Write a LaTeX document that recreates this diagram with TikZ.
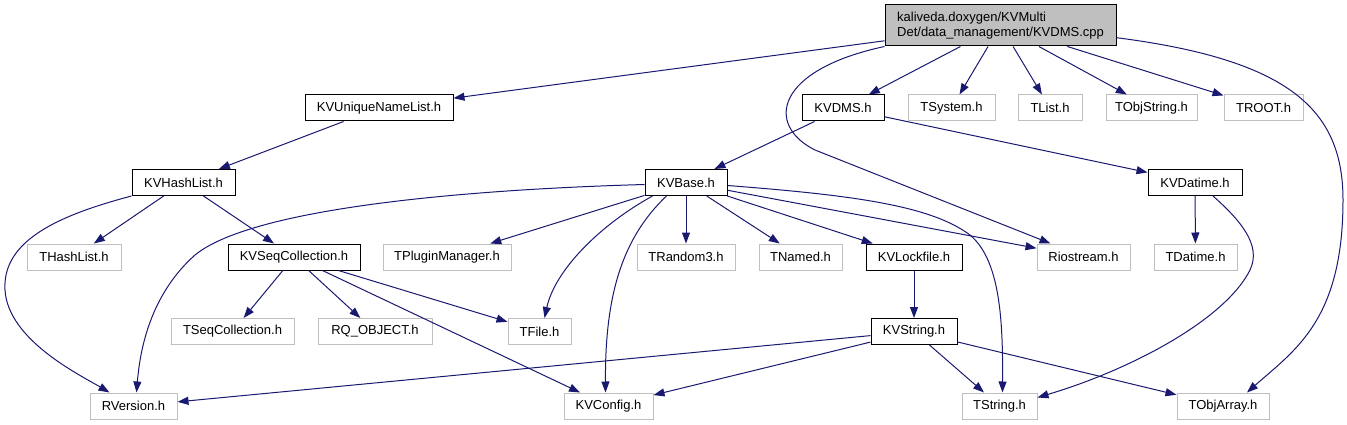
\documentclass[tikz,border=0pt]{standalone}
\usepackage{fontspec}
\setsansfont{Liberation Sans}
\usepackage{tikz}
\usetikzlibrary{arrows.meta}
\definecolor{edgeblue}{HTML}{191970}
\definecolor{boxgrey}{HTML}{BFBFBF}

\begin{document}
\begin{tikzpicture}[x=1pt, y=-1pt, font=\sffamily\fontsize{13}{14.5}\selectfont,
    kvfile/.style={draw=black, line width=1pt, inner sep=0pt, minimum height=26pt},
    extfile/.style={draw=boxgrey, line width=1pt, inner sep=0pt, minimum height=26pt},
    incl/.style={draw=edgeblue, line width=1pt, -{Triangle[length=11pt, width=8pt]}}]

    % Fix the page to the size of the graph
    \useasboundingbox (0,0) rectangle (1347,425);

    % The source file at the top
    \node[draw=black, fill=boxgrey, line width=1pt, inner sep=0pt, minimum width=231pt,
          minimum height=41pt, align=left] (root) at (1000.5,25.5)
          {kaliveda.doxygen/KVMulti\\Det/data\_management/KVDMS.cpp};

    % First level of headers
    \node[kvfile,  minimum width=148pt] (KVUniqueNameList) at (379,108)    {KVUniqueNameList.h};
    \node[kvfile,  minimum width=82pt]  (KVDMS)            at (843,108)    {KVDMS.h};
    \node[extfile, minimum width=87pt]  (TSystem)          at (951.5,108)  {TSystem.h};
    \node[extfile, minimum width=64pt]  (TList)            at (1050,108)   {TList.h};
    \node[extfile, minimum width=91pt]  (TObjString)       at (1151.5,108) {TObjString.h};
    \node[extfile, minimum width=79pt]  (TROOT)            at (1263.5,108) {TROOT.h};

    % Second level
    \node[kvfile, minimum width=103pt] (KVHashList) at (183.5,182.5) {KVHashList.h};
    \node[kvfile, minimum width=82pt]  (KVBase)     at (686,182.5)   {KVBase.h};
    \node[kvfile, minimum width=94pt]  (KVDatime)   at (1195,182.5)  {KVDatime.h};

    % Third level
    \node[extfile, minimum width=94pt]  (THashList)       at (74,257)     {THashList.h};
    \node[kvfile,  minimum width=132pt] (KVSeqCollection) at (294,257)    {KVSeqCollection.h};
    \node[extfile, minimum width=128pt] (TPluginManager)  at (447,257)    {TPluginManager.h};
    \node[extfile, minimum width=98pt]  (TRandom3)        at (686,257)    {TRandom3.h};
    \node[extfile, minimum width=83pt]  (TNamed)          at (800.5,257)  {TNamed.h};
    \node[kvfile,  minimum width=96pt]  (KVLockfile)      at (914,257)    {KVLockfile.h};
    \node[extfile, minimum width=93pt]  (Riostream)       at (1083.5,257) {Riostream.h};
    \node[extfile, minimum width=83pt]  (TDatime)         at (1195.5,257) {TDatime.h};

    % Fourth level
    \node[extfile, minimum width=123pt] (TSeqCollection) at (232.5,331.5) {TSeqCollection.h};
    \node[extfile, minimum width=114pt] (RQ_OBJECT)      at (375,331.5)   {RQ\_OBJECT.h};
    \node[extfile, minimum width=63pt]  (TFile)          at (539.5,331.5) {TFile.h};
    \node[kvfile,  minimum width=86pt]  (KVString)       at (914,331.5)   {KVString.h};

    % Bottom row
    \node[extfile, minimum width=87pt] (RVersion)  at (133.5,406) {RVersion.h};
    \node[extfile, minimum width=89pt] (KVConfig)  at (608.5,406) {KVConfig.h};
    \node[extfile, minimum width=75pt] (TString)   at (999.5,406) {TString.h};
    \node[extfile, minimum width=92pt] (TObjArray) at (1223,406)  {TObjArray.h};

    % Includes of the source file
    \draw[incl] (root) -- (KVUniqueNameList);
    \draw[incl] (root) -- (KVDMS);
    \draw[incl] (root) -- (TSystem);
    \draw[incl] (root) -- (TList);
    \draw[incl] (root) -- (TObjString);
    \draw[incl] (root) -- (TROOT);
    \draw[incl] (root.south west) .. controls (775,70) and (765,125) .. (815,150)
        -- ([xshift=14pt]Riostream.north west);
    \draw[incl] (root.-6) .. controls (1290,60) and (1343,110) .. (1343,200)
        .. controls (1343,320) and (1295,350) .. ([xshift=24pt]TObjArray.north);

    % Includes of the headers
    \draw[incl] (KVUniqueNameList) -- (KVHashList);
    \draw[incl] (KVDMS) -- (KVBase);
    \draw[incl] (KVDMS) -- (KVDatime);

    \draw[incl] (KVHashList) -- (THashList);
    \draw[incl] (KVHashList) -- (KVSeqCollection);
    \draw[incl] (KVHashList.south west) .. controls (60,215) and (2,240) .. (5,290)
        .. controls (8,340) and (80,375) .. ([xshift=-24pt]RVersion.north);

    \draw[incl] ([yshift=-2pt]KVBase.west) .. controls (450,190) and (250,210) .. (195,255)
        .. controls (150,295) and (140,350) .. ([xshift=3pt]RVersion.north);
    \draw[incl] (KVBase) -- (TPluginManager);
    \draw[incl] ([xshift=8pt]KVBase.south west) .. controls (600,225) and (555,270) .. ([xshift=5pt]TFile.north);
    \draw[incl] ([xshift=22pt]KVBase.south west) .. controls (620,240) and (605,300) .. ([xshift=-3pt]KVConfig.north);
    \draw[incl] (KVBase) -- (TRandom3);
    \draw[incl] (KVBase) -- (TNamed);
    \draw[incl] (KVBase) -- (KVLockfile);
    \draw[incl] (KVBase) -- (Riostream);
    \draw[incl] ([yshift=-3pt]KVBase.east) .. controls (850,195) and (930,205) .. (970,235)
        .. controls (1000,260) and (1003,320) .. ([xshift=3pt]TString.north);

    \draw[incl] (KVDatime) -- (TDatime);
    \draw[incl] ([xshift=18pt]KVDatime.south) .. controls (1240,220) and (1262,245) .. (1250,270)
        .. controls (1225,320) and (1130,370) .. ([yshift=-5pt]TString.north east);

    \draw[incl] (KVSeqCollection) -- (TSeqCollection);
    \draw[incl] (KVSeqCollection) -- (RQ_OBJECT);
    \draw[incl] (KVSeqCollection) -- (TFile);
    \draw[incl] (KVSeqCollection) -- (KVConfig);

    \draw[incl] (KVLockfile) -- (KVString);
    \draw[incl] (KVString) -- (RVersion);
    \draw[incl] (KVString) -- (KVConfig);
    \draw[incl] (KVString) -- (TString);
    \draw[incl] (KVString) -- (TObjArray);

\end{tikzpicture}
\end{document}
